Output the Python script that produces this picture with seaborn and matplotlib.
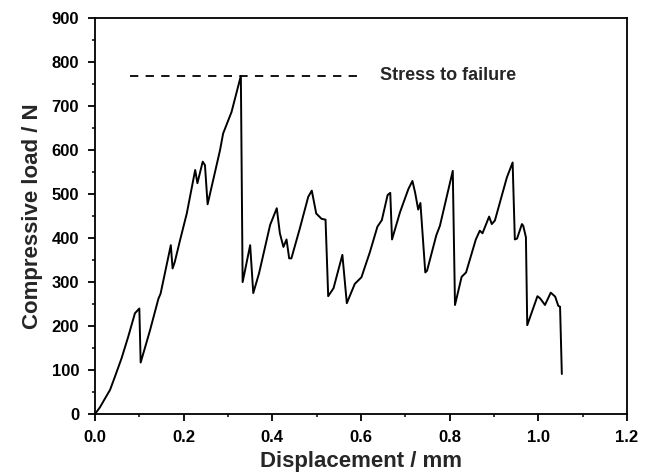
import numpy as np
import pandas as pd
import matplotlib
matplotlib.use("Agg")
import matplotlib.pyplot as plt
import seaborn as sns
from matplotlib.ticker import MultipleLocator

# Data
displacement_mm = [0.000, 0.011, 0.023, 0.034, 0.045, 0.060, 0.075, 0.090, 0.100, 0.103,
                   0.124, 0.143, 0.148, 0.171, 0.175, 0.180, 0.192, 0.207, 0.226, 0.231,
                   0.243, 0.248, 0.254, 0.282, 0.289, 0.308, 0.329, 0.333, 0.350, 0.357,
                   0.370, 0.395, 0.410, 0.417, 0.425, 0.432, 0.438, 0.443, 0.462, 0.481,
                   0.489, 0.499, 0.511, 0.520, 0.526, 0.538, 0.558, 0.568, 0.586, 0.601,
                   0.620, 0.637, 0.647, 0.660, 0.666, 0.670, 0.688, 0.707, 0.716, 0.722,
                   0.729, 0.734, 0.745, 0.749, 0.770, 0.778, 0.807, 0.812, 0.827, 0.837,
                   0.859, 0.868, 0.874, 0.889, 0.895, 0.902, 0.929, 0.942, 0.947, 0.952,
                   0.963, 0.966, 0.972, 0.975, 0.998, 1.004, 1.015, 1.028, 1.038, 1.045,
                   1.049, 1.053]
load_N = [0, 15, 36, 55, 85, 127, 176, 229, 240, 117,
          190, 262, 274, 384, 331, 346, 396, 456, 555, 525,
          574, 566, 477, 600, 638, 687, 769, 300, 384, 275,
          320, 430, 468, 411, 380, 397, 354, 354, 422, 494,
          508, 456, 444, 442, 268, 286, 362, 252, 296, 311,
          368, 426, 441, 498, 503, 397, 459, 512, 530, 504,
          465, 480, 322, 326, 407, 428, 553, 248, 312, 322,
          397, 417, 411, 449, 432, 440, 538, 572, 397, 399,
          432, 428, 402, 202, 268, 263, 248, 276, 267, 246,
          244, 91]

failure_x = [0.079, 0.59]
failure_load = [769, 769]
failure_label = "Stress to failure"

x_ticks = [0.0, 0.2, 0.4, 0.6, 0.8, 1.0, 1.2]
y_ticks = [0, 100, 200, 300, 400, 500, 600, 700, 800, 900]

sns.set_style("ticks")
plt.rcParams['font.family'] = ['Liberation Sans', 'DejaVu Sans']
plt.rcParams['font.weight'] = 'bold'

fig = plt.figure(figsize=(6.47, 4.76), dpi=100)
ax = fig.add_axes([95/647, 1 - 414/476, (627 - 95)/647, (414 - 18.3)/476])

df = pd.DataFrame({"Displacement": displacement_mm, "Load": load_N})
sns.lineplot(data=df, x="Displacement", y="Load", sort=False, estimator=None,
             color="black", linewidth=1.4, ax=ax)

dash_df = pd.DataFrame({"x": failure_x, "y": failure_load})
sns.lineplot(data=dash_df, x="x", y="y", color="black", linewidth=1.3,
             linestyle=(0, (4.6, 4.05)), ax=ax)
ax.text(0.643, 769, failure_label, fontsize=13, fontweight='bold', va='center', ha='left')

ax.set_xlim(0, 1.2)
ax.set_ylim(0, 900)
ax.set_xticks(x_ticks)
ax.set_yticks(y_ticks)
ax.set_xticklabels([f"{v:.1f}" for v in x_ticks])
ax.set_yticklabels([str(v) for v in y_ticks])
ax.xaxis.set_minor_locator(MultipleLocator(0.1))
ax.yaxis.set_minor_locator(MultipleLocator(50))
ax.tick_params(which='major', direction='out', length=5, width=1.3, labelsize=12, colors='black', pad=6.5)
ax.tick_params(which='minor', direction='out', length=2.5, width=1.3)
for lbl in ax.get_xticklabels() + ax.get_yticklabels():
    lbl.set_fontweight('bold')
for s in ax.spines.values():
    s.set_linewidth(1.3)
    s.set_color('black')

ax.set_xlabel("Displacement / mm", fontsize=16, fontweight='bold', labelpad=4)
ax.set_ylabel("Compressive load / N", fontsize=16, fontweight='bold', labelpad=6)

fig.savefig("out.png", dpi=100)
